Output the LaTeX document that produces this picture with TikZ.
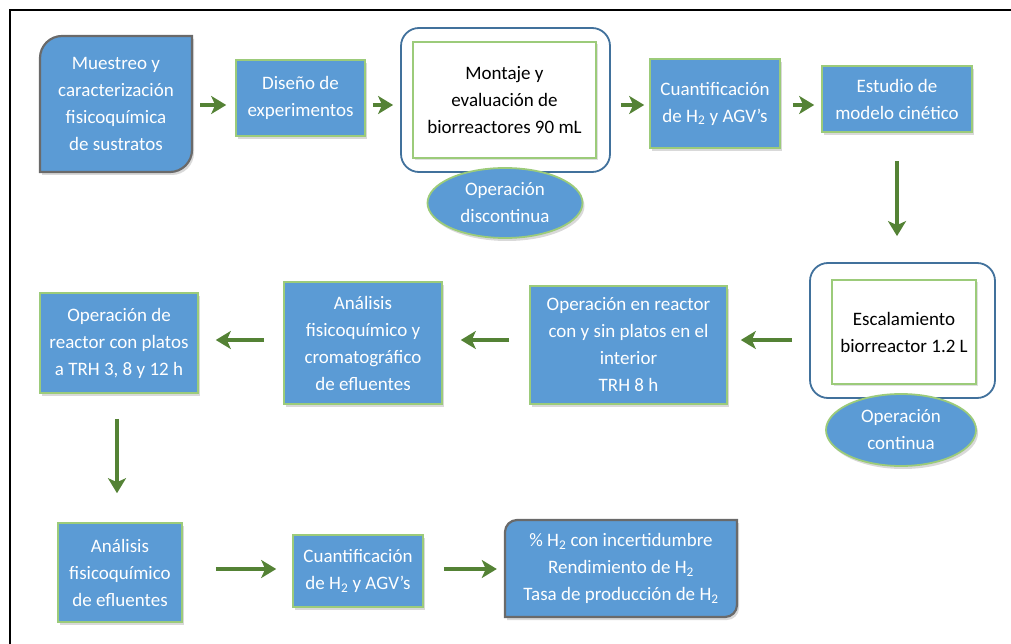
\documentclass[tikz,border=0pt]{standalone}
\usepackage{fontspec}
\setmainfont{Carlito}
\usetikzlibrary{shapes.geometric,arrows.meta,shadows}
\definecolor{bfill}{HTML}{5B9BD5}
\definecolor{gline}{HTML}{9CCB7A}
\definecolor{oline}{HTML}{41719C}
\definecolor{agreen}{HTML}{548235}
\definecolor{dgray}{HTML}{6A6A6A}
\tikzset{
  txt/.style={font=\fontsize{19}{27}\selectfont, align=center, inner sep=0pt},
  bluebox/.style={txt, rectangle, fill=bfill, draw=gline, line width=1.6pt, text=white,
    drop shadow={opacity=0.3, shadow xshift=2pt, shadow yshift=-3pt}},
  outerbox/.style={rectangle, rounded corners=18pt, draw=oline, line width=1.8pt, fill=white},
  innerbox/.style={txt, rectangle, draw=gline, line width=1.5pt, fill=white, text=black,
    drop shadow={opacity=0.25, shadow xshift=2pt, shadow yshift=-2pt}},
  ellbox/.style={txt, ellipse, fill=bfill, draw=gline, line width=1.8pt, text=white,
    drop shadow={opacity=0.3, shadow xshift=2pt, shadow yshift=-3pt}},
  diagshape/.style={fill=bfill, draw=dgray, line width=2.2pt,
    drop shadow={opacity=0.3, shadow xshift=2pt, shadow yshift=-3pt}},
  plain/.style={txt, text=white, rectangle},
  arr/.style={draw=agreen, line width=4pt, -{Stealth[length=15pt,width=18pt,inset=4pt]}}
}
\begin{document}
\begin{tikzpicture}[x=1pt,y=-1pt]
\useasboundingbox (0,0) rectangle (1011,644);
% frame
\draw[line width=2.5pt] (10,644) -- (10,10) -- (1011,10);

% row 1
\path[diagshape] (40,172) -- (40,58) .. controls (40,45.9) and (49.9,36) .. (62,36) -- (192,36) -- (192,150) .. controls (192,162.1) and (182.1,172) .. (170,172) -- cycle;
\node[plain, minimum width=152pt, minimum height=136pt] (mue) at (116,104)
  {Muestreo y\\caracterización\\fisicoquímica\\de sustratos};
\node[bluebox, minimum width=129pt, minimum height=76pt] (dis) at (300.5,98)
  {Diseño de\\experimentos};
\node[outerbox, minimum width=209pt, minimum height=144pt] (mout) at (505.5,100) {};
\node[innerbox, minimum width=183pt, minimum height=116pt] (min) at (504.5,100)
  {Montaje y\\evaluación de\\biorreactores 90 mL};
\node[ellbox, minimum width=155pt, minimum height=70pt] (disc) at (505,203)
  {Operación\\discontinua};
\node[bluebox, minimum width=130pt, minimum height=89pt] (cua1) at (715,103.5)
  {Cuantificación\\de H\textsubscript{2} y AGV’s};
\node[bluebox, minimum width=150pt, minimum height=66pt] (est) at (897,99)
  {Estudio de\\modelo cinético};

% row 2
\node[outerbox, minimum width=185pt, minimum height=135pt] (eout) at (902.5,330.5) {};
\node[innerbox, minimum width=144pt, minimum height=104pt] (ein) at (904,332)
  {Escalamiento\\biorreactor 1.2 L};
\node[ellbox, minimum width=150pt, minimum height=72pt] (cont) at (901,430)
  {Operación\\continua};
\node[bluebox, minimum width=197pt, minimum height=118pt] (ope) at (628.5,345)
  {Operación en reactor\\con y sin platos en el\\interior\\TRH 8 h};
\node[bluebox, minimum width=158pt, minimum height=122pt] (ana) at (363,343)
  {Análisis\\fisicoquímico y\\cromatográfico\\de efluentes};
\node[bluebox, minimum width=158pt, minimum height=100pt] (pla) at (119,343)
  {Operación de\\reactor con platos\\a TRH 3, 8 y 12 h};

% row 3
\node[bluebox, minimum width=124pt, minimum height=99pt] (ana2) at (120,572.5)
  {Análisis\\fisicoquímico\\de efluentes};
\node[bluebox, minimum width=130pt, minimum height=72pt] (cua2) at (358,571)
  {Cuantificación\\de H\textsubscript{2} y AGV’s};
\path[diagshape] (505,617) -- (505,532) .. controls (505,525.4) and (510.4,520) .. (517,520) -- (737,520) -- (737,605) .. controls (737,611.6) and (731.6,617) .. (725,617) -- cycle;
\node[plain, minimum width=232pt, minimum height=97pt] (pct) at (621,568.5)
  {\% H\textsubscript{2} con incertidumbre\\Rendimiento de H\textsubscript{2}\\Tasa de producción de H\textsubscript{2}};

% helper rows
\coordinate (r1) at (0,105);
\coordinate (r2) at (0,340);
\coordinate (r3) at (0,569);

% arrows row 1
\draw[arr, shorten <=8pt, shorten >=9pt] (mue.east |- r1) -- (dis.west |- r1);
\draw[arr, shorten <=7pt, shorten >=7pt] (dis.east |- r1) -- (mout.west |- r1);
\draw[arr, shorten <=10pt, shorten >=5pt] (mout.east |- r1) -- (cua1.west |- r1);
\draw[arr, shorten <=12pt, shorten >=7pt] (cua1.east |- r1) -- (est.west |- r1);
\draw[arr, shorten <=28pt, shorten >=26pt] (est.south) -- (est.south |- eout.north);

% arrows row 2
\draw[arr, shorten <=17pt, shorten >=13pt] (eout.west |- r2) -- (ope.east |- r2);
\draw[arr, shorten <=20pt, shorten >=18pt] (ope.west |- r2) -- (ana.east |- r2);
\draw[arr, shorten <=19pt, shorten >=17pt] (ana.west |- r2) -- (pla.east |- r2);
\draw[arr, shorten <=25pt, shorten >=29pt] ([xshift=-2pt]pla.south) -- ([xshift=-2pt]pla.south |- ana2.north);

% arrows row 3
\draw[arr, shorten <=33pt, shorten >=16pt] (ana2.east |- r3) -- (cua2.west |- r3);
\draw[arr, shorten <=20pt, shorten >=8pt] (cua2.east |- r3) -- (pct.west |- r3);
\end{tikzpicture}
\end{document}
